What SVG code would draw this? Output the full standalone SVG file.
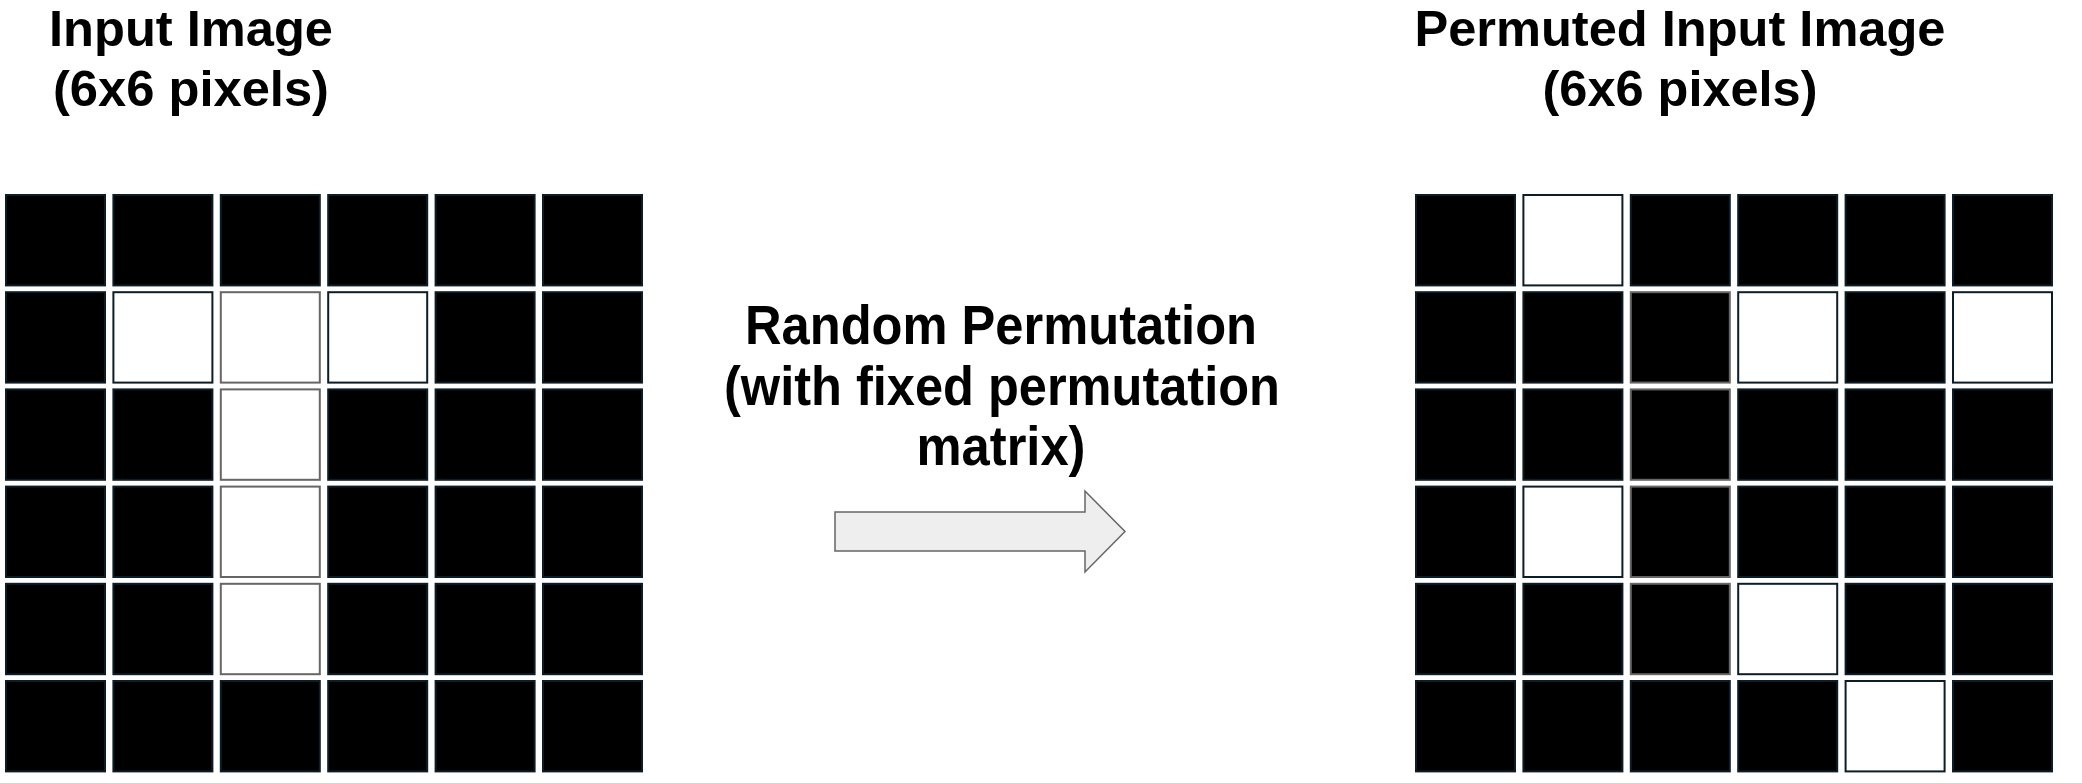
<svg xmlns="http://www.w3.org/2000/svg" width="2082" height="783" viewBox="0 0 2082 783">
<style>
text{font-family:"Liberation Sans",Arial,sans-serif;font-weight:bold;font-size:50px;fill:#000;text-anchor:middle}
.mid{font-size:56px}
rect{width:99px;height:90.4px;stroke-width:2}
.b{fill:#000;stroke:#0c1d27}
.w{fill:#fff;stroke:#0c1d27}
.bg{fill:#000;stroke:#666}
.wg{fill:#fff;stroke:#666}
.arrow{fill:#eeeeee;stroke:#666;stroke-width:1.5;stroke-linejoin:miter}
</style>
<rect width="2082" height="783" fill="#fff" style="stroke:none;width:2082px;height:783px"/>
<g id="title-input">
<text x="191" y="46" textLength="284" lengthAdjust="spacingAndGlyphs">Input Image</text>
<text x="191" y="106" textLength="276" lengthAdjust="spacingAndGlyphs">(6x6 pixels)</text>
</g>
<g id="title-permuted">
<text x="1680" y="46" textLength="531" lengthAdjust="spacingAndGlyphs">Permuted Input Image</text>
<text x="1680" y="106" textLength="275" lengthAdjust="spacingAndGlyphs">(6x6 pixels)</text>
</g>
<g id="label-permutation">
<text class="mid" x="1001" y="344" textLength="512" lengthAdjust="spacingAndGlyphs">Random Permutation</text>
<text class="mid" x="1002" y="404.5" textLength="556" lengthAdjust="spacingAndGlyphs">(with fixed permutation</text>
<text class="mid" x="1001" y="465" textLength="169" lengthAdjust="spacingAndGlyphs">matrix)</text>
</g>
<g id="grid-input">
<rect class="b" x="6" y="195"/><rect class="b" x="113.4" y="195"/><rect class="b" x="220.8" y="195"/><rect class="b" x="328.2" y="195"/><rect class="b" x="435.6" y="195"/><rect class="b" x="543" y="195"/>
<rect class="b" x="6" y="292.2"/><rect class="w" x="113.4" y="292.2"/><rect class="wg" x="220.8" y="292.2"/><rect class="w" x="328.2" y="292.2"/><rect class="b" x="435.6" y="292.2"/><rect class="b" x="543" y="292.2"/>
<rect class="b" x="6" y="389.4"/><rect class="b" x="113.4" y="389.4"/><rect class="wg" x="220.8" y="389.4"/><rect class="b" x="328.2" y="389.4"/><rect class="b" x="435.6" y="389.4"/><rect class="b" x="543" y="389.4"/>
<rect class="b" x="6" y="486.6"/><rect class="b" x="113.4" y="486.6"/><rect class="wg" x="220.8" y="486.6"/><rect class="b" x="328.2" y="486.6"/><rect class="b" x="435.6" y="486.6"/><rect class="b" x="543" y="486.6"/>
<rect class="b" x="6" y="583.8"/><rect class="b" x="113.4" y="583.8"/><rect class="wg" x="220.8" y="583.8"/><rect class="b" x="328.2" y="583.8"/><rect class="b" x="435.6" y="583.8"/><rect class="b" x="543" y="583.8"/>
<rect class="b" x="6" y="681"/><rect class="b" x="113.4" y="681"/><rect class="b" x="220.8" y="681"/><rect class="b" x="328.2" y="681"/><rect class="b" x="435.6" y="681"/><rect class="b" x="543" y="681"/>
</g>
<g id="grid-permuted">
<rect class="b" x="1416" y="195"/><rect class="w" x="1523.4" y="195"/><rect class="b" x="1630.8" y="195"/><rect class="b" x="1738.2" y="195"/><rect class="b" x="1845.6" y="195"/><rect class="b" x="1953" y="195"/>
<rect class="b" x="1416" y="292.2"/><rect class="b" x="1523.4" y="292.2"/><rect class="bg" x="1630.8" y="292.2"/><rect class="w" x="1738.2" y="292.2"/><rect class="b" x="1845.6" y="292.2"/><rect class="w" x="1953" y="292.2"/>
<rect class="b" x="1416" y="389.4"/><rect class="b" x="1523.4" y="389.4"/><rect class="bg" x="1630.8" y="389.4"/><rect class="b" x="1738.2" y="389.4"/><rect class="b" x="1845.6" y="389.4"/><rect class="b" x="1953" y="389.4"/>
<rect class="b" x="1416" y="486.6"/><rect class="w" x="1523.4" y="486.6"/><rect class="bg" x="1630.8" y="486.6"/><rect class="b" x="1738.2" y="486.6"/><rect class="b" x="1845.6" y="486.6"/><rect class="b" x="1953" y="486.6"/>
<rect class="b" x="1416" y="583.8"/><rect class="b" x="1523.4" y="583.8"/><rect class="bg" x="1630.8" y="583.8"/><rect class="w" x="1738.2" y="583.8"/><rect class="b" x="1845.6" y="583.8"/><rect class="b" x="1953" y="583.8"/>
<rect class="b" x="1416" y="681"/><rect class="b" x="1523.4" y="681"/><rect class="b" x="1630.8" y="681"/><rect class="b" x="1738.2" y="681"/><rect class="w" x="1845.6" y="681"/><rect class="b" x="1953" y="681"/>
</g>
<g id="connectors">
<path class="arrow" d="M835,512 L1085,512 L1085,491 L1125,531.5 L1085,572 L1085,551 L835,551 Z"/>
</g>
</svg>
